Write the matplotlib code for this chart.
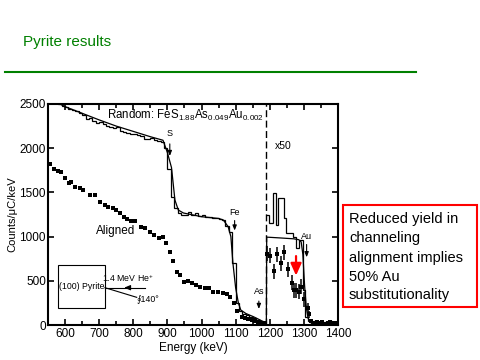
import matplotlib
matplotlib.use("Agg")
import matplotlib.pyplot as plt
from matplotlib.patches import Rectangle
from matplotlib.lines import Line2D
from matplotlib.ticker import MultipleLocator

plt.rcParams['font.family'] = ['Liberation Sans', 'DejaVu Sans']
plt.rcParams['mathtext.fontset'] = 'custom'
plt.rcParams['mathtext.rm'] = 'Liberation Sans'
plt.rcParams['mathtext.it'] = 'Liberation Sans'

# ---------------- data ----------------
# Random spectrum, measured histogram (10 keV bins, 550-1190 keV)
rand_hist_edges = list(range(550, 1200, 10))
rand_hist_vals = [2560, 2545, 2525, 2505, 2480, 2465, 2440, 2430, 2420, 2395,
                  2380, 2330, 2345, 2310, 2290, 2300, 2270, 2250, 2240, 2230,
                  2235, 2200, 2180, 2175, 2160, 2165, 2150, 2140, 2100, 2105,
                  2110, 2090, 2085, 2070, 2000, 1760, 1450, 1320, 1270, 1250,
                  1245, 1280, 1250, 1270, 1230, 1240, 1220, 1225, 1210, 1215,
                  1200, 1190, 1120, 1050, 700, 250, 160, 120, 110, 90,
                  80, 60, 40, 20]

# Random spectrum, simulation (smooth line)
sim_E = [550, 600, 650, 700, 750, 800, 850, 887, 900, 912, 922, 932, 947, 1000,
         1050, 1064, 1078, 1086, 1092, 1100, 1108, 1115, 1130, 1152, 1170, 1181, 1190]
sim_C = [2570, 2470, 2395, 2320, 2250, 2190, 2130, 2090, 1950, 1780, 1414, 1300, 1267, 1225,
         1205, 1187, 1112, 1000, 700, 420, 249, 170, 130, 94, 60, 38, 25]

# x50 region: random histogram (left edges + final edge)
x50_hist_edges = [1190, 1199, 1209, 1218, 1225, 1242, 1248, 1269, 1277, 1287, 1297,
                  1303, 1313, 1320, 1328, 1335, 1342, 1350, 1358, 1366, 1374, 1382, 1390, 1400]
x50_hist_vals = [1244, 1150, 1489, 1131, 1433, 1206, 1037, 999, 867, 961, 396,
                 95, 40, 20, 45, 15, 30, 10, 35, 20, 40, 15, 30]

# x50 region: simulation
x50_sim_E = [1190, 1191, 1230, 1270, 1285, 1292, 1297, 1302, 1307, 1312, 1318, 1330, 1400]
x50_sim_C = [20, 994, 985, 975, 965, 940, 800, 450, 200, 80, 30, 15, 10]

# Aligned spectrum (main region)
al_E = [555, 568, 579, 589, 601, 611, 618, 630, 643, 653, 672, 687, 701, 716, 726,
        740, 750, 760, 773, 783, 794, 806, 824, 833, 848, 861, 874, 887, 897, 908,
        915, 927, 937, 950, 961, 972, 985, 996, 1010, 1023, 1035, 1049, 1062, 1074,
        1083, 1095, 1105, 1118, 1127, 1137, 1147, 1157, 1166, 1176, 1186]
al_C = [1821, 1761, 1745, 1730, 1659, 1602, 1621, 1564, 1546, 1527, 1470, 1470, 1395, 1357, 1338,
        1320, 1300, 1263, 1218, 1195, 1176, 1176, 1112, 1100, 1055, 1018, 980, 999, 924, 830,
        722, 605, 570, 488, 497, 478, 450, 432, 420, 413, 368, 375, 357, 349,
        319, 244, 161, 86, 75, 68, 56, 45, 38, 26, 19]

# Aligned spectrum x50 region (with error bars)
alx_E = [1193, 1201, 1213, 1222, 1232, 1243, 1253, 1264, 1271, 1278, 1285, 1291, 1301, 1311, 1315]
alx_C = [807, 781, 608, 800, 698, 822, 631, 476, 394, 394, 375, 432, 289, 188, 120]
alx_err = [85, 85, 85, 85, 85, 85, 85, 85, 85, 85, 85, 85, 85, 60, 40]
alx_tail_E = [1322, 1330, 1338, 1346, 1354, 1362, 1370, 1378, 1386, 1394]
alx_tail_C = [40, 25, 30, 20, 35, 15, 25, 30, 20, 25]

x_ticks = [600, 700, 800, 900, 1000, 1100, 1200, 1300, 1400]
y_ticks = [0, 500, 1000, 1500, 2000, 2500]

box_lines = ["Reduced yield in", "channeling", "alignment implies",
             "50% Au", "substitutionality"]

# ---------------- figure ----------------
fig = plt.figure(figsize=(4.8, 3.6), dpi=100)
ax = fig.add_axes([48/480, 1-325/360, 290/480, 221/360])

ax.stairs(rand_hist_vals, rand_hist_edges, color='k', lw=0.9, baseline=None)
ax.plot(sim_E, sim_C, color='k', lw=0.9)
ax.stairs(x50_hist_vals, x50_hist_edges, color='k', lw=0.9, baseline=None)
ax.plot(x50_sim_E, x50_sim_C, color='k', lw=0.9)

ax.plot(al_E, al_C, 's', color='k', ms=3, mew=0)
ax.errorbar(alx_E, alx_C, yerr=alx_err, fmt='s', color='k', ms=3.3, mew=0, elinewidth=1.1, capsize=0)
ax.plot(alx_tail_E, alx_tail_C, 's', color='k', ms=2.5, mew=0)

ax.axvline(1190, color='k', lw=1, ls=(0, (5, 2.5)))

ax.set_xlim(550, 1400)
ax.set_ylim(0, 2500)
ax.set_xticks(x_ticks)
ax.set_yticks(y_ticks)
ax.xaxis.set_minor_locator(MultipleLocator(50))
ax.tick_params(which='both', direction='in', top=True, right=True, labelsize=8.5, width=1.2)
ax.tick_params(which='major', length=4)
ax.tick_params(which='minor', length=3)
ax.tick_params(axis='y', pad=1.5)
ax.tick_params(axis='x', pad=2.5)
for s in ax.spines.values():
    s.set_linewidth(1.5)
ax.set_xlabel('Energy (keV)', fontsize=8.5, labelpad=1)
ax.set_ylabel('Counts/\u03bcC/keV', fontsize=8)
ax.yaxis.set_label_coords(-0.105, 0.5)

# annotations
ax.text(723, 2375, 'Random: FeS$_{1.88}$As$_{0.049}$Au$_{0.002}$', fontsize=8.3, va='center', ha='left')
ax.text(1240, 2027, 'x50', fontsize=7.5, ha='center', va='center')
ax.text(748, 1062, 'Aligned', fontsize=8.5, ha='center', va='center')

def elem(label, x, ty, y0, y1):
    ax.text(x, ty, label, fontsize=6.5, ha='center', va='center')
    ax.annotate('', xy=(x, y1), xytext=(x, y0),
                arrowprops=dict(arrowstyle='-|>,head_length=0.5,head_width=0.2',
                                color='k', lw=0.8, mutation_scale=6))

elem('S', 907, 2165, 2080, 1880)
elem('Fe', 1097, 1270, 1213, 1037)
elem('As', 1168, 377, 302, 150)
elem('Au', 1308, 999, 942, 735)

ax.annotate('', xy=(1277, 528), xytext=(1277, 811),
            arrowprops=dict(arrowstyle='-|>,head_length=0.6,head_width=0.27',
                            color='#ff0000', lw=1.6, mutation_scale=12))

# inset geometry sketch
ax.add_patch(Rectangle((580, 189), 137, 490, fill=False, lw=0.8, color='k'))
ax.text(649, 440, '(100) Pyrite', fontsize=6.3, ha='center', va='center')
ax.plot([717, 834], [422, 422], color='k', lw=0.8)
ax.plot([717, 810], [422, 313], color='k', lw=0.8)
ax.annotate('', xy=(765, 422), xytext=(790, 422),
            arrowprops=dict(arrowstyle='-|>,head_length=0.6,head_width=0.25',
                            color='k', lw=0.8, mutation_scale=6))
ax.text(783, 528, '1.4 MeV He$^{+}$', fontsize=6.3, ha='center', va='center')
ax.text(808, 291, '\u222e140\u00b0', fontsize=6.3, ha='left', va='center')

# title and rule
fig.text(23/480, 1-42/360, 'Pyrite results', color='#008000', fontsize=11, va='center', ha='left')
fig.add_artist(Line2D([5/480, 416/480], [1-71.7/360, 1-71.7/360], color='#008000', lw=1.5))

# red box
fig.add_artist(Rectangle((343.3/480, 1-306.7/360), 133.4/480, 101.7/360,
                         fill=False, edgecolor='#ff0000', lw=1.5, transform=fig.transFigure))
line_y = [219, 238, 258, 277, 295]
for txt, yy in zip(box_lines, line_y):
    fig.text(349/480, 1-yy/360, txt, fontsize=10.5, ha='left', va='center')

fig.savefig('out.png', dpi=100)
